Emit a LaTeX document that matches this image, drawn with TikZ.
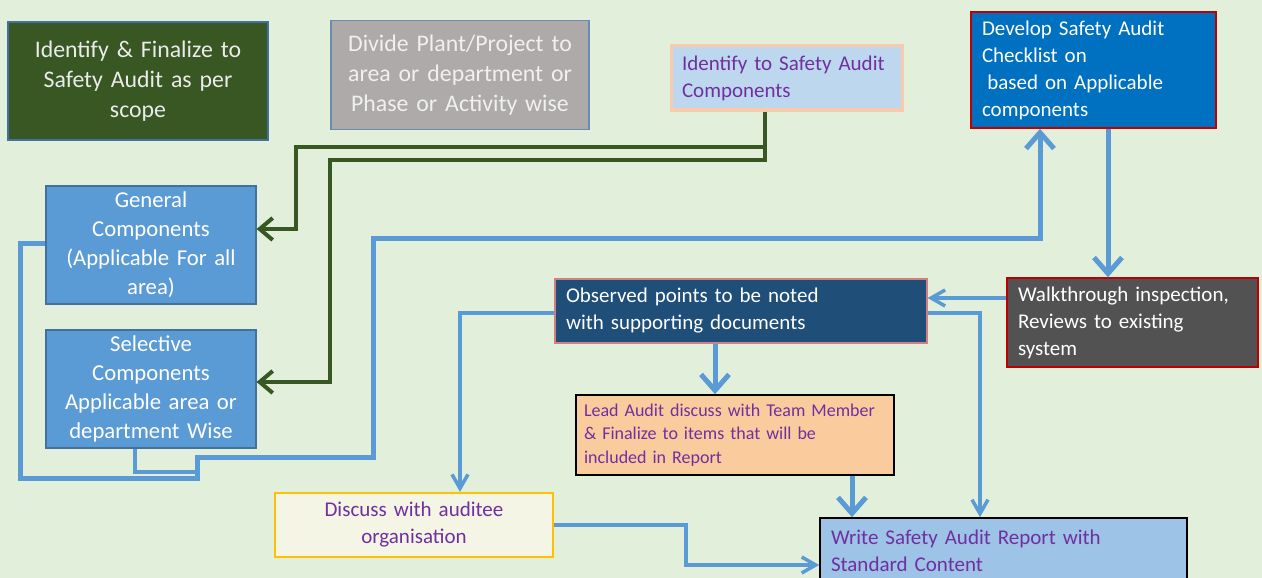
\documentclass[tikz,border=0pt]{standalone}
\usepackage{fontspec}
\setmainfont{Carlito}
\usetikzlibrary{arrows.meta,calc}

\definecolor{bgcol}{HTML}{E2EFDA}
\definecolor{dkgreen}{HTML}{385723}
\definecolor{edgeblue}{HTML}{41719C}
\definecolor{midblue}{HTML}{5B9BD5}
\definecolor{greybox}{HTML}{AEAAAA}
\definecolor{paleblue}{HTML}{BDD7EE}
\definecolor{peach}{HTML}{F8CBAD}
\definecolor{purpletext}{HTML}{7030A0}
\definecolor{strongblue}{HTML}{0070C0}
\definecolor{darkred}{HTML}{C00000}
\definecolor{navy}{HTML}{1F4E79}
\definecolor{softred}{HTML}{D08080}
\definecolor{charcoal}{HTML}{525252}
\definecolor{orangebox}{HTML}{FACB9C}
\definecolor{ivory}{HTML}{F4F5E4}
\definecolor{gold}{HTML}{FFC000}
\definecolor{reportblue}{HTML}{9DC3E6}

\tikzset{
  x=1pt, y=-1pt,
  box/.style={rectangle, inner xsep=0pt, inner ysep=0pt, anchor=center},
  bigtext/.style={font=\fontsize{23.8}{30}\selectfont},
  sidetext/.style={font=\fontsize{22.7}{29}\selectfont},
  midtext/.style={font=\fontsize{21}{27}\selectfont},
  leadtext/.style={font=\fontsize{18}{23.5}\selectfont},
  greenline/.style={draw=dkgreen, line width=4pt, line join=miter,
    -{Straight Barb[length=13pt,width=22pt,line width=4pt]}},
  bluebig/.style={draw=midblue, line width=5pt, line join=miter,
    -{Straight Barb[length=16pt,width=28pt,line width=5pt]}},
  bluesmall/.style={draw=midblue, line width=3.5pt, line join=miter,
    -{Straight Barb[length=14pt,width=16pt,line width=3.5pt]}},
  blueplain/.style={draw=midblue, line width=4.5pt, line join=miter},
  fatarrow/.style={fill=midblue, draw=edgeblue, line width=1pt, line join=miter}
}

\begin{document}
\begin{tikzpicture}
\useasboundingbox (0,0) rectangle (1262,578);
\clip (0,0) rectangle (1262,578);
\fill[bgcol] (0,0) rectangle (1262,578);

% process boxes
\node[box, bigtext, fill=dkgreen, draw=edgeblue, line width=1.2pt, text=white!92!black,
  minimum width=260pt, minimum height=118pt, text width=250pt, align=center]
  (scope) at (138,81) {Identify \& Finalize to\\Safety Audit as per\\scope};
\node[box, bigtext, fill=greybox, draw=edgeblue!80, line width=1.2pt, text=white!94!black,
  minimum width=258pt, minimum height=109pt, text width=250pt, align=center]
  (divide) at (460,75) {Divide Plant/Project to\\area or department or\\Phase or Activity wise};
\node[box, midtext, fill=paleblue, draw=peach, line width=3pt, text=purpletext,
  minimum width=231pt, minimum height=64pt, text width=209pt, align=left]
  (components) at (786.5,78) {Identify to Safety Audit\\Components};
\node[box, midtext, fill=strongblue, draw=darkred, line width=1.6pt, text=white,
  minimum width=245pt, minimum height=116pt, text width=223pt, align=left]
  (checklist) at (1093.5,70) {Develop Safety Audit\\Checklist on\\\hspace{0.25em}based on Applicable\\components};
\node[box, sidetext, fill=midblue, draw=edgeblue, line width=1.2pt, text=white,
  minimum width=210pt, minimum height=118pt, text width=206pt, align=center]
  (general) at (151,245) {General\\Components\\(Applicable For all\\area)};
\node[box, sidetext, fill=midblue, draw=edgeblue, line width=1.2pt, text=white,
  minimum width=210pt, minimum height=118pt, text width=206pt, align=center]
  (selective) at (151,389) {Selective\\Components\\Applicable area or\\department Wise};
\node[box, midtext, fill=navy, draw=softred, line width=1.2pt, text=white,
  minimum width=372pt, minimum height=64pt, text width=350pt, align=left]
  (observed) at (741,311) {Observed points to be noted\\with supporting documents};
\node[box, midtext, fill=charcoal, draw=darkred, line width=1.4pt, text=white,
  minimum width=251pt, minimum height=89pt, text width=229pt, align=left]
  (walk) at (1132.5,322.5) {Walkthrough inspection,\\Reviews to existing\\system};
\node[box, leadtext, fill=orangebox, draw=black, line width=1.6pt, text=purpletext,
  minimum width=318pt, minimum height=80pt, text width=302pt, align=left]
  (lead) at (735,435) {Lead Audit discuss with Team Member\\\& Finalize to items that will be\\included in Report};
\node[box, midtext, fill=ivory, draw=gold, line width=2.2pt, text=purpletext,
  minimum width=278pt, minimum height=64pt, text width=260pt, align=center]
  (auditee) at (414,525) {Discuss with auditee\\organisation};
\node[box, midtext, fill=reportblue, draw=black, line width=1.6pt, text=purpletext,
  minimum width=367pt, minimum height=66pt, text width=345pt, align=left]
  (report) at (1003.5,551) {Write Safety Audit Report with\\Standard Content};

% block arrows along the top row
\path[fatarrow] let \p1=(scope.east), \p2=(divide.west) in
  (\x1,-74) -- (\x2-9pt,-74) -- (\x2-9pt,-69) -- (\x2,-78.5) -- (\x2-9pt,-88)
  -- (\x2-9pt,-83) -- (\x1,-83) -- cycle;
\path[fatarrow] let \p1=(divide.east), \p2=(components.west) in
  (\x1,-79) -- (\x2-11pt,-79) -- (\x2-11pt,-73.5) -- (\x2,-85) -- (\x2-11pt,-96.5)
  -- (\x2-11pt,-91) -- (\x1,-91) -- cycle;
\path[fatarrow] let \p1=(components.east), \p2=(checklist.west) in
  (\x1,-73.5) -- (\x2-11pt,-73.5) -- (\x2-11pt,-69) -- (\x2,-78.5) -- (\x2-11pt,-88)
  -- (\x2-11pt,-83.5) -- (\x1,-83.5) -- cycle;

% component split (dark green)
\draw[greenline] (components.south -| 765,0) -- (765,147) -- (296,147) -- (296,229)
  -- (general.east |- 0,229);
\draw[greenline] (components.south -| 765,0) -- (765,160) -- (330,160) -- (330,382)
  -- (selective.east |- 0,382);

% components feed the checklist
\draw[blueplain] (selective.south -| 135,0) -- (135,472) -- (199,472);
\draw[bluebig] (general.west |- 0,243) -- (20,243) -- (20,478) -- (197,478) -- (197,457)
  -- (373,457) -- (373,238) -- (1040,238) -- (checklist.south -| 1040,0);

% audit flow
\draw[bluebig] (checklist.south -| 1108,0) -- (walk.north -| 1108,0);
\draw[bluesmall, line width=4pt] (walk.west |- 0,298) -- (observed.east |- 0,298);
\draw[bluebig] (observed.south -| 715,0) -- (lead.north -| 715,0);
\draw[bluesmall] (observed.east |- 0,313) -- (980,313) -- (980,0 |- report.north);
\draw[bluesmall] (observed.west |- 0,313) -- (460,313) -- (460,0 |- auditee.north);
\draw[bluebig] (lead.south -| 852,0) -- (report.north -| 852,0);
\draw[bluesmall, line width=4.5pt] (auditee.east |- 0,525) -- (686,525) -- (686,565)
  -- (report.west |- 0,565);
\end{tikzpicture}
\end{document}
